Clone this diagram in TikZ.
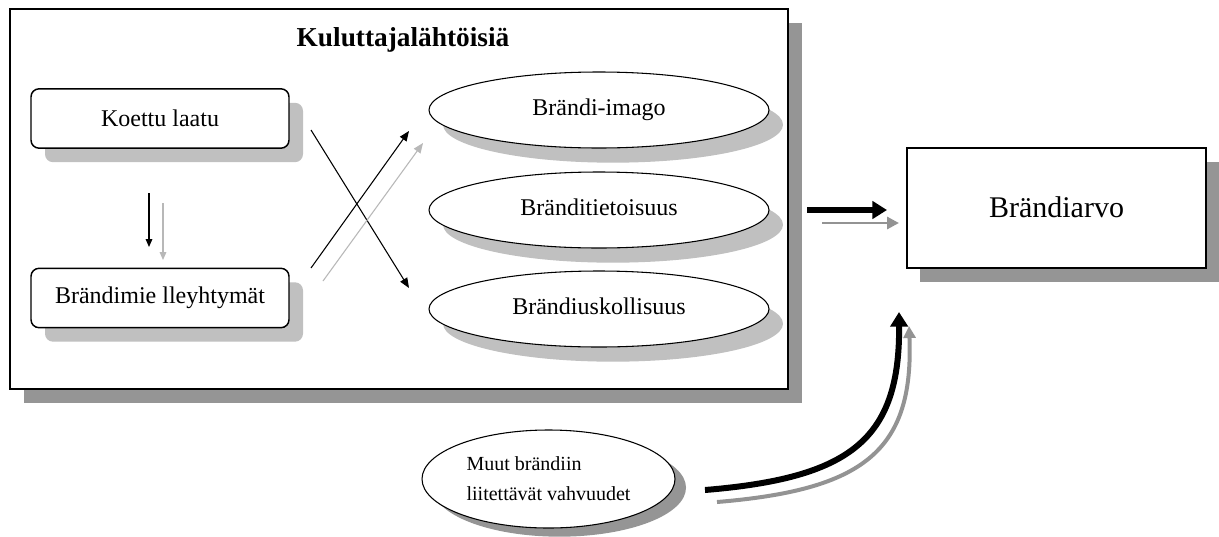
\documentclass[tikz,border=0pt]{standalone}
\usepackage{fontspec}
\setmainfont{Liberation Serif}
\usetikzlibrary{arrows.meta,shadows,shapes.geometric}
\definecolor{shadelight}{HTML}{C0C0C0}
\definecolor{shadedark}{HTML}{959595}
\definecolor{arrowgray}{HTML}{B8B8B8}
\newcommand{\ovaltext}[1]{\raisebox{4.5pt}{#1}}
\begin{document}
\begin{tikzpicture}[x=0.75pt,y=-0.75pt,
  every node/.style={inner sep=0pt},
  bodytext/.style={font=\fontsize{18}{21}\selectfont},
  roundbox/.style={draw, line width=1.1pt, fill=white, rounded corners=6pt,
    minimum width=193.5pt, minimum height=44.5pt, bodytext,
    drop shadow={shadow xshift=10.5pt, shadow yshift=-10.5pt, fill=shadelight, opacity=1}},
  oval/.style={ellipse, draw, line width=0.8pt, fill=white,
    minimum width=255pt, minimum height=57pt, bodytext,
    drop shadow={shadow xshift=10.5pt, shadow yshift=-11pt, fill=shadelight, opacity=1}},
  thinarrow/.style={line width=0.8pt, -{Triangle[length=7.5pt,width=6pt]}},
  downarrow/.style={line width=0.8pt, -{Triangle[length=6pt,width=5pt]}},
  bigarrow/.style={line width=4.5pt, -{Triangle[length=11pt,width=13pt]}},
  bigshadow/.style={line width=2.2pt, arrowgray!80!black, -{Triangle[length=9pt,width=9pt]}},
]
\useasboundingbox (0,0) rectangle (1219,536);

% outer frame with its title
\node[draw, line width=1.5pt, fill=white, minimum width=583.5pt, minimum height=285pt,
  drop shadow={shadow xshift=10.5pt, shadow yshift=-10.5pt, fill=shadedark, opacity=1}]
  (frame) at (399,199) {};
\node[font=\fontsize{20.5}{24}\selectfont\bfseries] (title) at (403,40) {Kuluttajalähtöisiä};

% left column
\node[roundbox] (laatu) at (160,118.5) {Koettu laatu};
\node[roundbox] (miel) at (160,298) {Brändimie lleyhtymät};

% right column
\node[oval] (imago) at (599,110) {\ovaltext{Brändi-imago}};
\node[oval] (tieto) at (599,210) {\ovaltext{Bränditietoisuus}};
\node[oval] (usk) at (599,309) {\ovaltext{Brändiuskollisuus}};

% result box
\node[draw, line width=1.1pt, fill=white, minimum width=224.25pt, minimum height=90pt,
  font=\fontsize{22.5}{26}\selectfont,
  drop shadow={shadow xshift=9.75pt, shadow yshift=-10.5pt, fill=shadedark, opacity=1}]
  (arvo) at (1056.5,208) {\raisebox{2pt}{Brändiarvo}};

% other strengths
\node[ellipse, draw, line width=0.8pt, fill=white, minimum width=189.75pt, minimum height=73.5pt,
  align=left, font=\fontsize{15}{22.5}\selectfont,
  drop shadow={shadow xshift=8.25pt, shadow yshift=-6.5pt, fill=shadedark, opacity=1}]
  (muut) at (548.5,479) {Muut brändiin\\liitettävät vahvuudet};

% arrow end points
\coordinate (d1s) at (149,193); \coordinate (d1e) at (149,247);
\coordinate (d2s) at (163,203); \coordinate (d2e) at (163,260);
\coordinate (x1s) at (311,130); \coordinate (x1e) at (409,288);
\coordinate (x2s) at (311,268); \coordinate (x2e) at (409,131);
\coordinate (x3s) at (323,281); \coordinate (x3e) at (423,143);
\coordinate (b1s) at (807,210); \coordinate (b1e) at (887,210);
\coordinate (b2s) at (822,223); \coordinate (b2e) at (899,223);
\coordinate (c1s) at (705,490); \coordinate (c1e) at (899,312);
\coordinate (c2s) at (717,502); \coordinate (c2e) at (909,326);

% vertical arrows
\draw[downarrow] (d1s) -- (d1e);
\draw[downarrow, arrowgray] (d2s) -- (d2e);

% crossing arrows
\draw[thinarrow] (x1s) -- (x1e);
\draw[thinarrow] (x2s) -- (x2e);
\draw[thinarrow, arrowgray] (x3s) -- (x3e);

% arrows into the result box
\draw[bigshadow] (b2s) -- (b2e);
\draw[bigarrow] (b1s) -- (b1e);

\draw[line width=3pt, arrowgray!80!black, -{Triangle[length=9pt,width=9pt]}]
  (c2s) .. controls (862,490) and (914,452) .. (c2e);
\draw[bigarrow] (c1s) .. controls (850,478) and (900,440) .. (c1e);
\end{tikzpicture}
\end{document}
